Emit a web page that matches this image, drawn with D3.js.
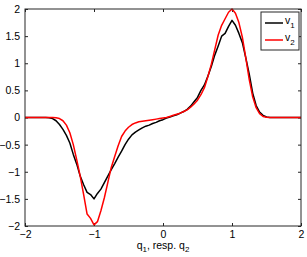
<!DOCTYPE html>
<html>
<head>
<meta charset="utf-8">
<script src="https://cdn.jsdelivr.net/npm/d3@7"></script>
<style>
  body { margin: 0; background: #fff; }
  svg text { font-family: "Liberation Sans", Arial, sans-serif; fill: #000; }
</style>
</head>
<body>
<svg width="307" height="257"></svg>
<script>
// shared abscissa
var q = [-2, -1.8, -1.7, -1.65, -1.6, -1.55, -1.5, -1.45, -1.4, -1.35, -1.3, -1.25, -1.2, -1.15, -1.1, -1.05,
  -1, -0.95, -0.9, -0.85, -0.8, -0.75, -0.7, -0.65, -0.6, -0.55, -0.5, -0.45, -0.4, -0.35, -0.3, -0.25,
  -0.2, -0.15, -0.1, -0.05, 0, 0.05, 0.1, 0.15, 0.2, 0.25, 0.3, 0.35, 0.4, 0.45, 0.5, 0.55, 0.6, 0.65,
  0.7, 0.75, 0.8, 0.85, 0.9, 0.95, 1, 1.05, 1.1, 1.15, 1.2, 1.25, 1.3, 1.35, 1.4, 1.45, 1.5, 1.55, 1.6, 1.8, 2];

var v1 = [0, 0, 0, -0.005, -0.02, -0.06, -0.13, -0.22, -0.33, -0.47, -0.68, -0.86, -1.08, -1.24, -1.38, -1.42,
  -1.5, -1.40, -1.32, -1.2, -1.08, -0.96, -0.85, -0.73, -0.62, -0.5, -0.4, -0.32, -0.27, -0.23, -0.19, -0.16,
  -0.14, -0.11, -0.09, -0.06, -0.04, -0.01, 0.01, 0.03, 0.05, 0.08, 0.11, 0.15, 0.21, 0.29, 0.37, 0.5, 0.6, 0.76,
  0.94, 1.15, 1.32, 1.5, 1.55, 1.68, 1.79, 1.7, 1.55, 1.38, 1.1, 0.8, 0.45, 0.22, 0.1, 0.04, 0.01, 0, 0, 0, 0];

var v2 = [0, 0, 0, 0, 0, -0.005, -0.02, -0.06, -0.14, -0.28, -0.5, -0.78, -1.08, -1.42, -1.78, -1.86,
  -1.98, -1.92, -1.72, -1.48, -1.2, -0.92, -0.72, -0.52, -0.35, -0.25, -0.18, -0.13, -0.1, -0.08, -0.07, -0.06,
  -0.05, -0.04, -0.03, -0.02, -0.01, 0, 0.02, 0.04, 0.06, 0.08, 0.11, 0.14, 0.19, 0.25, 0.32, 0.42, 0.55, 0.75,
  0.98, 1.25, 1.52, 1.7, 1.82, 1.94, 2.0, 1.92, 1.75, 1.48, 1.1, 0.7, 0.38, 0.18, 0.07, 0.02, 0.005, 0, 0, 0, 0];

var xTicks = [-2, -1, 0, 1, 2];
var yTicks = [-2, -1.5, -1, -0.5, 0, 0.5, 1, 1.5, 2];
var seriesNames = ["1", "2"];
var colors = ["#000000", "#ff0000"];

var svg = d3.select("svg"),
    margin = {top: 9, right: 6, bottom: 31, left: 25},
    width = +svg.attr("width") - margin.left - margin.right,
    height = +svg.attr("height") - margin.top - margin.bottom;

var xScale = d3.scaleLinear().domain([-2, 2]).range([0, width]);
var yScale = d3.scaleLinear().domain([-2, 2]).range([height, 0]);

var g = svg.append("g")
    .attr("transform", "translate(" + margin.left + "," + margin.top + ")");

var fmt = function(d) { return d3.format("")(d).replace("-", "\u2212"); };
var axisColor = "#262626";

function styleAxis(sel, hideText) {
    sel.select(".domain").remove();
    sel.selectAll(".tick line").attr("stroke", axisColor);
    sel.selectAll(".tick text").style("font-size", "10.5px");
    if (hideText) sel.selectAll(".tick text").remove();
}

// axes with inward ticks on all four sides
g.append("g")
    .attr("transform", "translate(0," + height + ")")
    .call(d3.axisBottom(xScale).tickValues(xTicks).tickFormat(fmt).tickSizeInner(-3).tickPadding(5))
    .call(styleAxis, false);
g.append("g")
    .call(d3.axisTop(xScale).tickValues(xTicks).tickSizeInner(-3))
    .call(styleAxis, true);
g.append("g")
    .call(d3.axisLeft(yScale).tickValues(yTicks).tickFormat(fmt).tickSizeInner(-3).tickPadding(5))
    .call(styleAxis, false);
g.append("g")
    .attr("transform", "translate(" + width + ",0)")
    .call(d3.axisRight(yScale).tickValues(yTicks).tickSizeInner(-3))
    .call(styleAxis, true);

var line = d3.line()
    .x(function(d, i) { return xScale(q[i]); })
    .y(function(d) { return yScale(d); });

[v1, v2].forEach(function(vals, i) {
    g.append("path")
        .datum(vals)
        .attr("fill", "none")
        .attr("stroke", colors[i])
        .attr("stroke-width", 1.5)
        .attr("stroke-linejoin", "round")
        .attr("d", line);
});

// plot box
g.append("rect")
    .attr("width", width).attr("height", height)
    .attr("fill", "none").attr("stroke", axisColor).attr("stroke-width", 1);

// legend
var leg = svg.append("g").attr("transform", "translate(261,12)");
leg.append("rect")
    .attr("width", 38).attr("height", 38)
    .attr("fill", "#fff").attr("stroke", axisColor).attr("stroke-width", 1);
seriesNames.forEach(function(n, i) {
    var yy = 11 + i * 17;
    leg.append("line")
        .attr("x1", 4).attr("x2", 22).attr("y1", yy).attr("y2", yy)
        .attr("stroke", colors[i]).attr("stroke-width", 1.5);
    var t = leg.append("text").attr("x", 24).attr("y", yy + 1).style("font-size", "10.5px");
    t.append("tspan").text("v");
    t.append("tspan").attr("dy", 4).style("font-size", "8px").text(n);
});

// x label
var xl = svg.append("text")
    .attr("x", margin.left + width / 2)
    .attr("y", 249)
    .attr("text-anchor", "middle")
    .style("font-size", "10.5px");
xl.append("tspan").text("q");
xl.append("tspan").attr("dy", 3).style("font-size", "8px").text("1");
xl.append("tspan").attr("dy", -3).text(", resp. q");
xl.append("tspan").attr("dy", 3).style("font-size", "8px").text("2");
</script>
</body>
</html>
